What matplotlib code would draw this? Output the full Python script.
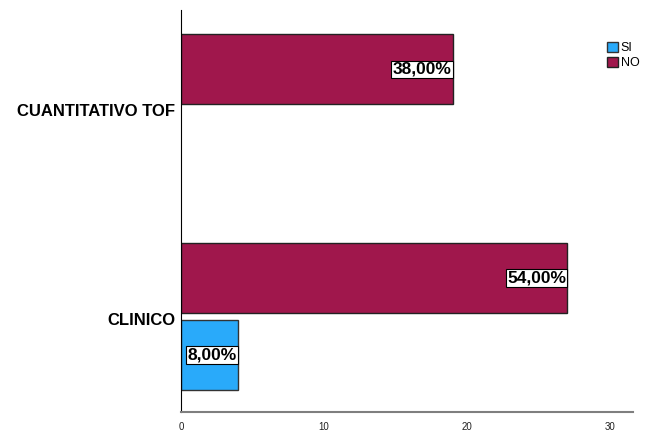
import matplotlib.pyplot as plt
import numpy as np

plt.rcParams["font.family"] = ["Liberation Sans", "DejaVu Sans"]

categories = ["CLINICO", "CUANTITATIVO TOF"]
series = ["SI", "NO"]
si_counts = [4, 0]
no_counts = [27, 19]
si_labels = ["8,00%", ""]
no_labels = ["54,00%", "38,00%"]
colors = {"SI": "#29AAFA", "NO": "#A0174C"}

fig = plt.figure(figsize=(6.69, 4.33), dpi=100)
ax = fig.add_axes([0.2706, 0.0485, 0.6755, 0.9285])

y = np.arange(len(categories))
h = 0.336
off = 0.184

bars_si = ax.barh(y - off, si_counts, height=h, color=colors["SI"], edgecolor="#333333", linewidth=1, label="SI")
bars_no = ax.barh(y + off, no_counts, height=h, color=colors["NO"], edgecolor="#222222", linewidth=1, label="NO")

for bars, labels in [(bars_si, si_labels), (bars_no, no_labels)]:
    for b, lab in zip(bars, labels):
        if b.get_width() == 0:
            b.set_linewidth(0)
        if not lab:
            continue
        ax.text(b.get_width() - 0.08, b.get_y() + b.get_height() / 2, lab,
                ha="right", va="center", fontsize=12.5, fontweight="bold",
                bbox=dict(boxstyle="square,pad=0.08", fc="white", ec="black", lw=0.8))

ax.set_xlim(0, 31.6)
ax.set_ylim(-0.459, 1.469)
ax.set_xticks([0, 10, 20, 30])
ax.tick_params(axis="x", length=0, labelsize=7, pad=7, labelcolor="#222222")
# category labels sit a touch below the group centre in the original
ax.set_yticks(y - 0.012)
ax.set_yticklabels(categories, fontsize=12, fontweight="bold")
ax.tick_params(axis="y", length=0, pad=4)

ax.spines["top"].set_visible(False)
ax.spines["right"].set_visible(False)
ax.spines["left"].set_color("black")
ax.spines["bottom"].set_color("#7f7f7f")
ax.spines["bottom"].set_linewidth(1.5)

fig.legend(handles=[bars_si, bars_no], labels=series, loc="upper left",
           bbox_to_anchor=(0.9, 0.915), frameon=False, fontsize=9,
           handlelength=0.9, handleheight=0.9, handletextpad=0.2, labelspacing=0.2,
           borderaxespad=0)

fig.savefig("out.png", dpi=100)
